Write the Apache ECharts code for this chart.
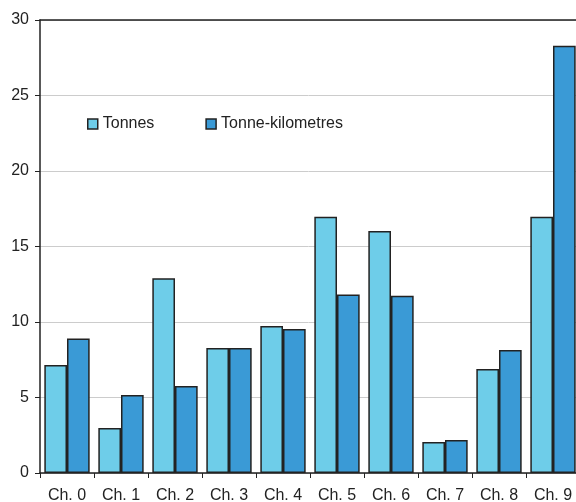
<!DOCTYPE html>
<html>
<head>
<meta charset="utf-8">
<script src="https://cdn.jsdelivr.net/npm/echarts@6/dist/echarts.min.js"></script>
<style>
  html, body { margin: 0; padding: 0; background: #fff; }
  #chart { width: 576px; height: 502px; }
</style>
</head>
<body>
<div id="chart"></div>
<script>
// Freight by channel: tonnes vs tonne-kilometres (% share)
const categories = ['Ch. 0', 'Ch. 1', 'Ch. 2', 'Ch. 3', 'Ch. 4', 'Ch. 5', 'Ch. 6', 'Ch. 7', 'Ch. 8', 'Ch. 9'];
const tonnes = [7.15, 2.98, 12.9, 8.28, 9.73, 16.97, 16.03, 2.05, 6.89, 16.97];
const tonneKm = [8.9, 5.17, 5.76, 8.28, 9.54, 11.82, 11.74, 2.19, 8.15, 28.3];
const yTicks = { min: 0, max: 30, interval: 5 };

const font = 'Liberation Sans, Arial, sans-serif';
const chart = echarts.init(document.getElementById('chart'));

chart.setOption({
  animation: false,
  textStyle: { fontFamily: font },
  grid: { left: 40, top: 20, width: 540, height: 453, containLabel: false, outerBoundsMode: 'none' },
  legend: {
    left: 87, top: 116, padding: 0,
    itemWidth: 10, itemHeight: 10, itemGap: 51,
    icon: 'rect',
    textStyle: { fontSize: 16, color: '#222', fontFamily: font },
    itemStyle: { borderColor: '#222', borderWidth: 1.5 },
    data: ['Tonnes', 'Tonne-kilometres']
  },
  xAxis: [{
    type: 'category',
    data: categories,
    axisLine: { lineStyle: { color: '#222', width: 1.5 } },
    axisTick: { show: true, length: 5, alignWithLabel: false, lineStyle: { color: '#222' } },
    axisLabel: { fontSize: 16, color: '#222', margin: 15, fontFamily: font }
  }, {
    type: 'category',
    position: 'top',
    data: categories,
    axisLine: { show: true, lineStyle: { color: '#222', width: 1.5 } },
    axisTick: { show: false },
    axisLabel: { show: false }
  }],
  yAxis: {
    type: 'value',
    min: yTicks.min, max: yTicks.max, interval: yTicks.interval,
    axisLine: { show: true, lineStyle: { color: '#222', width: 1.5 } },
    axisTick: { show: true, length: 5, lineStyle: { color: '#222' } },
    axisLabel: { fontSize: 16, color: '#222', margin: 11, fontFamily: font },
    splitLine: { show: true, lineStyle: { color: '#cccccc', width: 1 } }
  },
  series: [{
    name: 'Tonnes',
    type: 'bar',
    data: tonnes,
    barGap: '0%',
    barCategoryGap: '16%',
    itemStyle: { color: '#6ecde9', borderColor: '#222', borderWidth: 1.5 }
  }, {
    name: 'Tonne-kilometres',
    type: 'bar',
    data: tonneKm,
    barGap: '0%',
    barCategoryGap: '16%',
    itemStyle: { color: '#3a9ad6', borderColor: '#222', borderWidth: 1.5 }
  }]
});
</script>
</body>
</html>
